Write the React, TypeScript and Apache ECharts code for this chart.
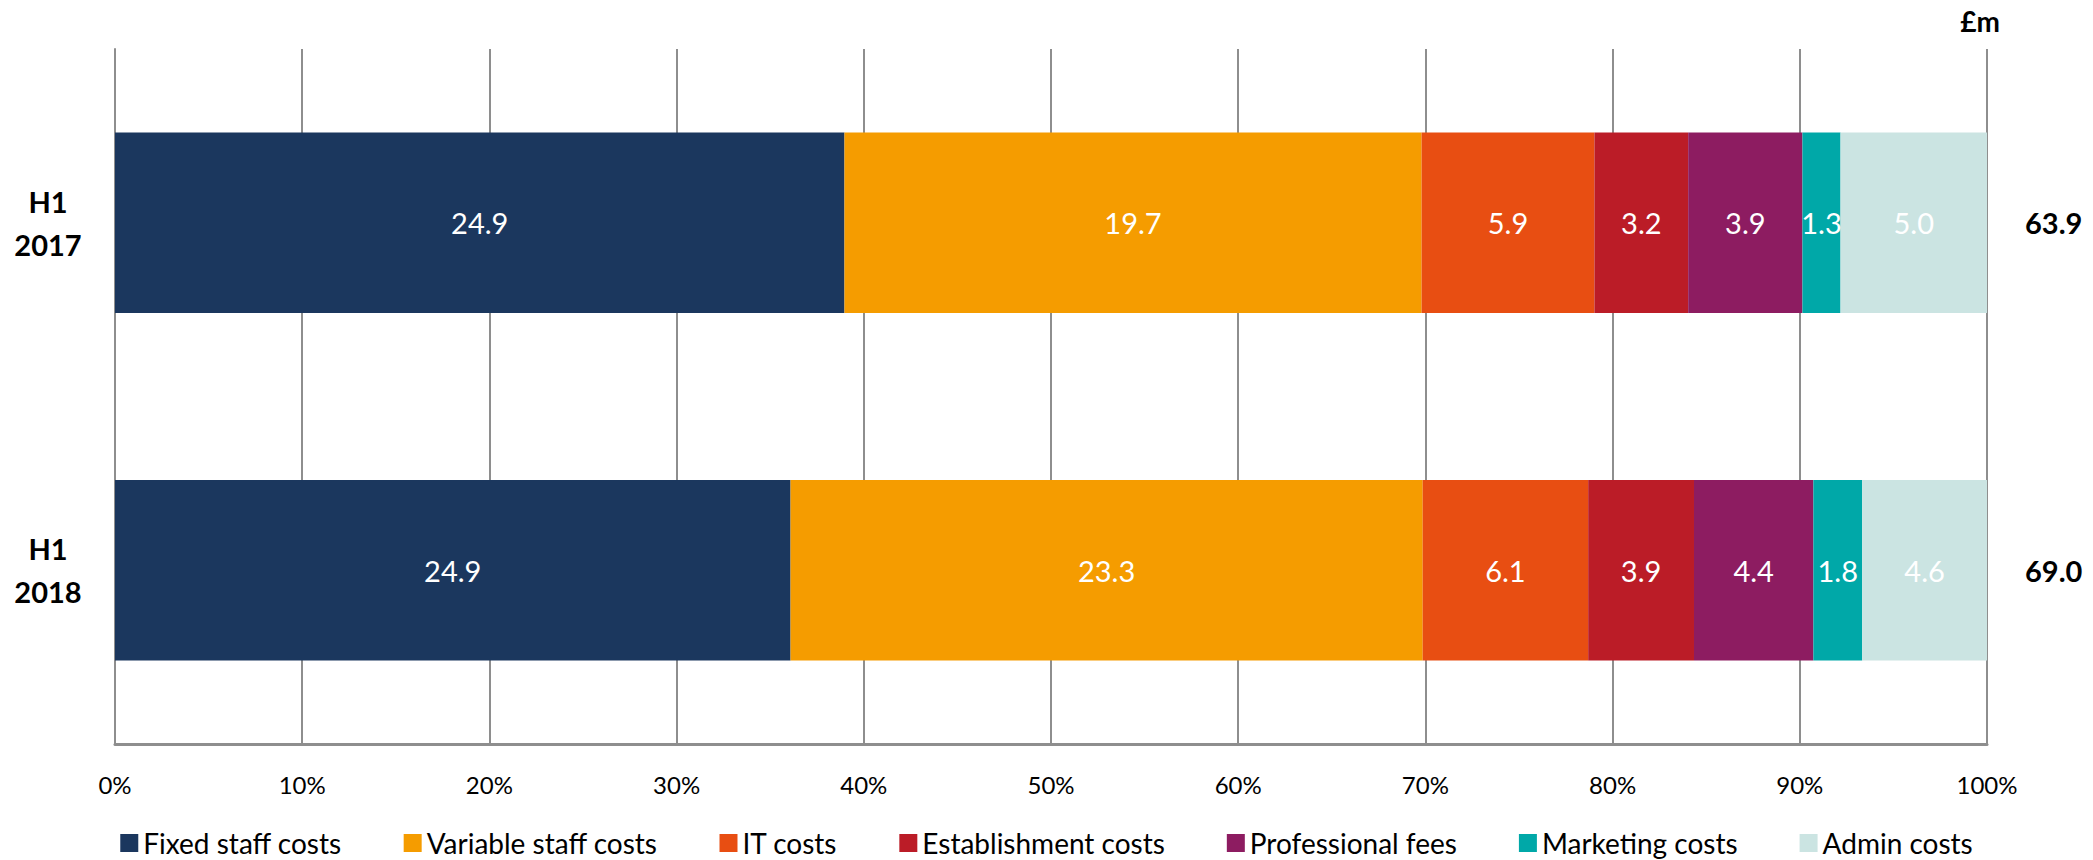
import React, { useEffect, useRef } from "react";
import * as echarts from "echarts";

// Half-year operating costs, £m
const categories = ["H1\n2017", "H1\n2018"];
const fixedStaffCosts = [24.9, 24.9];
const variableStaffCosts = [19.7, 23.3];
const itCosts = [5.9, 6.1];
const establishmentCosts = [3.2, 3.9];
const professionalFees = [3.9, 4.4];
const marketingCosts = [1.3, 1.8];
const adminCosts = [5.0, 4.6];
const percentTicks = [0, 10, 20, 30, 40, 50, 60, 70, 80, 90, 100];

const seriesDefs = [
  { name: "Fixed staff costs", values: fixedStaffCosts, color: "#1B375E" },
  { name: "Variable staff costs", values: variableStaffCosts, color: "#F59C00" },
  { name: "IT costs", values: itCosts, color: "#E84E12" },
  { name: "Establishment costs", values: establishmentCosts, color: "#BB1C27" },
  { name: "Professional fees", values: professionalFees, color: "#8D1C61" },
  { name: "Marketing costs", values: marketingCosts, color: "#00A8A8" },
  { name: "Admin costs", values: adminCosts, color: "#CBE4E2" },
];

const FONT = "Lato, 'Open Sans', sans-serif";
const GRID_COLOR = "#8E8E8E";

export default function App() {
  const ref = useRef<HTMLDivElement>(null);

  useEffect(() => {
    document.body.style.margin = "0";
    if (!ref.current) return;
    const chart = echarts.init(ref.current, undefined, { renderer: "svg" });

    const totals = categories.map((_, i) =>
      seriesDefs.reduce((s, d) => s + d.values[i], 0)
    );

    const series = seriesDefs.map((d) => ({
      name: d.name,
      type: "bar" as const,
      stack: "total",
      yAxisIndex: 0,
      barWidth: "52%",
      itemStyle: { color: d.color },
      label: {
        show: true,
        position: "inside" as const,
        color: "#FFFFFF",
        fontFamily: FONT,
        fontSize: 29,
        formatter: (p: any) => p.data.raw.toFixed(1),
      },
      data: d.values.map((v, i) => ({ value: (v / totals[i]) * 100, raw: v })),
    }));

    chart.setOption({
      animation: false,
      textStyle: { fontFamily: FONT },
      grid: { left: 115, right: 106, top: 49, bottom: 116, containLabel: false },
      xAxis: {
        type: "value",
        min: percentTicks[0],
        max: percentTicks[percentTicks.length - 1],
        interval: 10,
        axisLine: { show: true, lineStyle: { color: GRID_COLOR, width: 3 } },
        axisTick: { show: false },
        splitLine: { show: true, lineStyle: { color: GRID_COLOR, width: 2 } },
        axisLabel: {
          color: "#000000",
          fontFamily: FONT,
          fontSize: 24,
          margin: 28,
          formatter: (v: number) => `${v}%`,
        },
      },
      yAxis: [
        {
          type: "category",
          data: categories,
          inverse: true,
          axisLine: { show: true, lineStyle: { color: GRID_COLOR, width: 2 } },
          axisTick: { show: false },
          axisLabel: {
            color: "#000000",
            fontFamily: FONT,
            fontWeight: "bold",
            fontSize: 29,
            lineHeight: 43,
            align: "center",
            margin: 67,
          },
        },
        {
          type: "category",
          data: totals.map((t) => t.toFixed(1)),
          inverse: true,
          position: "right",
          axisLine: { show: false },
          axisTick: { show: false },
          axisLabel: {
            color: "#000000",
            fontFamily: FONT,
            fontWeight: "bold",
            fontSize: 29,
            margin: 38,
            align: "left",
          },
        },
      ],
      legend: {
        bottom: -2,
        left: "center",
        itemWidth: 18,
        itemHeight: 18,
        itemGap: 62,
        icon: "rect",
        textStyle: { color: "#000000", fontFamily: FONT, fontSize: 28 },
        data: seriesDefs.map((d) => d.name),
      },
      graphic: [
        {
          type: "text",
          right: 93,
          top: 7,
          style: {
            text: "£m",
            fill: "#000000",
            font: `bold 28px ${FONT}`,
          },
        },
      ],
      series,
    });

    return () => chart.dispose();
  }, []);

  return <div ref={ref} style={{ width: "2093px", height: "860px" }} />;
}
